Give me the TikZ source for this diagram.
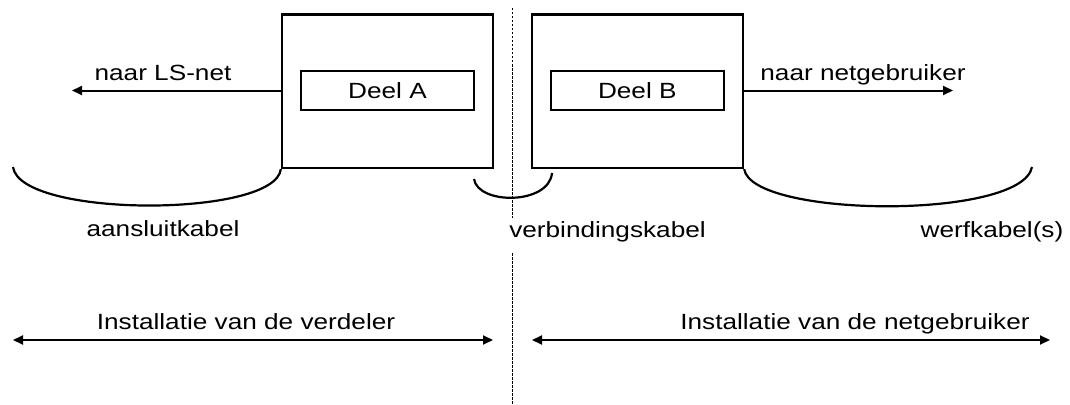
\documentclass[tikz,border=0pt]{standalone}
\usepackage{fontspec}
\setmainfont{Liberation Sans}[FakeStretch=1.19]
\usetikzlibrary{arrows.meta,calc}

\begin{document}
\begin{tikzpicture}[x=1pt,y=-1pt,
    font=\fontsize{22}{26}\selectfont,
    kast/.style={draw,line width=2.3pt,minimum width=211pt,minimum height=153.5pt,inner sep=0pt},
    deel/.style={draw,line width=1.5pt,minimum width=173pt,minimum height=39pt,inner sep=0pt},
    lbl/.style={anchor=base,inner sep=0pt},
    pijl/.style={line width=2pt,-{Triangle[length=10pt,width=9pt]}},
    dubbel/.style={line width=2pt,{Triangle[length=10pt,width=9pt]}-{Triangle[length=10pt,width=9pt]}},
    kabel/.style={line width=2.2pt}]
  \useasboundingbox (0,0) rectangle (1070,404);
  % de twee kasten
  \node[kast] (kastA) at (387.5,91.25) {};
  \node[kast] (kastB) at (637.5,91.25) {};
  \node[deel] (deelA) at (387.5,90.5) {Deel A};
  \node[deel] (deelB) at (637.3,90.5) {Deel B};
  % scheiding
  \coordinate (sepTop) at (512.7,8);
  \coordinate (sepA) at (512.7,218);
  \coordinate (sepB) at (512.7,253);
  \coordinate (sepBot) at (512.7,404);
  \draw[line width=1pt,dash pattern=on 2.5pt off 1.5pt] (sepTop)--(sepA) (sepB)--(sepBot);
  % aansluitingen
  \coordinate (lsnet) at (72,90.5);
  \coordinate (gebr) at (953,90.5);
  \draw[pijl] (kastA.west|-lsnet) -- (lsnet);
  \draw[pijl] (kastB.east|-gebr) -- (gebr);
  \node[lbl] (tLS) at (163,81) {naar LS-net};
  \node[lbl] (tGebr) at (863,81) {naar netgebruiker};
  % kabels
  \coordinate (aL) at (13,167);
  \coordinate (vL) at (474,179);
  \coordinate (vR) at (552,173);
  \coordinate (wR) at (1032,167);
  \draw[kabel] (aL) .. controls (20,218) and (275,218) .. (kastA.south west);
  \draw[kabel] (vL) .. controls (478,205) and (549,205) .. (vR);
  \draw[kabel] (kastB.south east) .. controls (752,218) and (1022,220) .. (wR);
  \node[lbl] (tAansl) at (163,236) {aansluitkabel};
  \node[lbl] (tVerb) at (607.5,237) {verbindingskabel};
  \node[lbl] (tWerf) at (992,237) {werfkabel(s)};
  % installaties
  \coordinate (iA1) at (13,340);
  \coordinate (iA2) at (493,340);
  \coordinate (iB1) at (532,340);
  \coordinate (iB2) at (1050,340);
  \draw[dubbel] (iA1) -- (iA2);
  \draw[dubbel] (iB1) -- (iB2);
  \node[lbl] (tVerd) at (246,329) {Installatie van de verdeler};
  \node[lbl] (tNet) at (855,329) {Installatie van de netgebruiker};
\end{tikzpicture}
\end{document}
